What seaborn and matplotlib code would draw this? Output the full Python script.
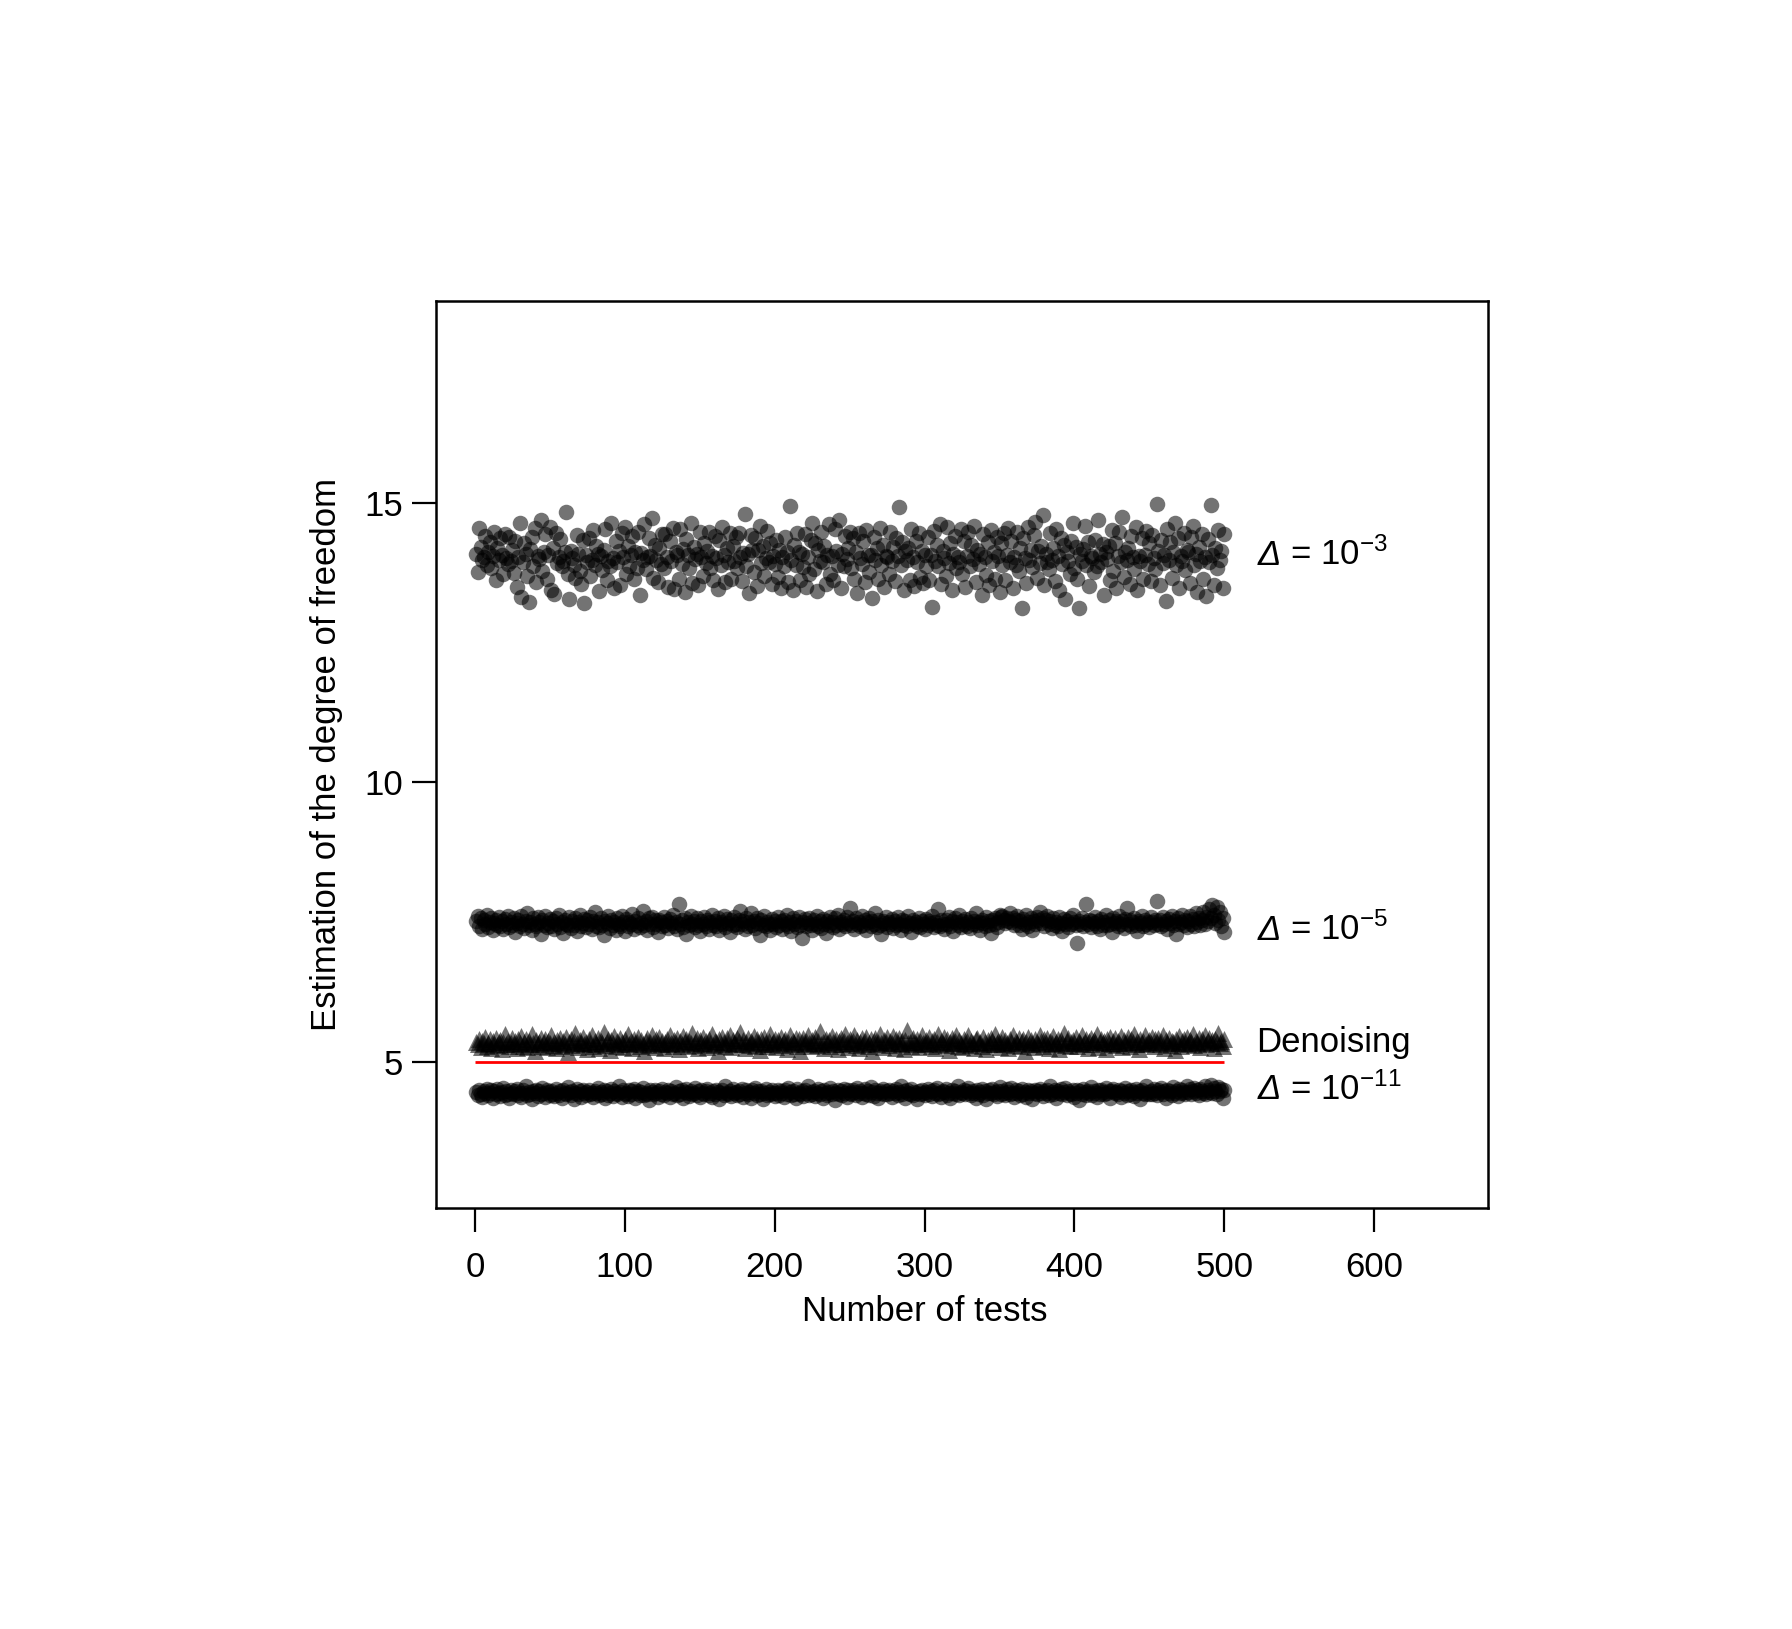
import numpy as np
import pandas as pd
import matplotlib
matplotlib.use("Agg")
import matplotlib.pyplot as plt
import seaborn as sns

# ---------------- data (read/estimated from the reference) ----------------
TOP_DELTA_1E3 = [
 14.08, 13.76, 14.55, 14.21, 13.97, 14.02, 14.41, 13.88, 14.12, 14.29, 13.84, 14.05, 14.47, 13.62, 14.18, 13.98, 14.36, 14.07, 13.73, 14.44, 14.01, 13.91, 14.39, 13.95, 14.15,
 13.74, 14.31, 13.49, 14.02, 14.63, 13.31, 13.93, 14.27, 14.09, 13.69, 13.23, 14.17, 14.38, 13.86, 14.55, 13.58, 14.04, 13.99, 14.68, 13.77, 14.11, 14.43, 13.63, 14.06, 14.57,
 13.43, 14.19, 13.37, 14.46, 13.92, 14.03, 14.35, 13.87, 13.96, 14.12, 14.84, 13.73, 13.27, 14.13, 14.01, 13.89, 13.65, 14.42, 14.08, 13.78, 13.55, 14.33, 13.21, 14.06, 13.94,
 14.36, 13.68, 13.97, 14.51, 13.89, 14.23, 14.08, 13.42, 14.04, 13.79, 14.16, 14.53, 13.61, 13.95, 13.87, 14.63, 14.01, 13.47, 14.32, 13.93, 14.14, 13.52, 14.45, 14.03, 14.57,
 13.72, 14.22, 13.86, 14.06, 14.41, 13.63, 14.11, 13.84, 14.48, 13.34, 14.10, 13.97, 14.62, 13.81, 14.02, 14.37, 14.04, 14.73, 13.66, 14.25, 13.98, 13.58, 14.18, 13.90, 14.44,
 13.84, 14.43, 14.02, 13.49, 14.31, 13.96, 14.55, 13.45, 14.12, 14.07, 13.64, 14.52, 13.91, 14.17, 13.41, 14.35, 14.06, 13.83, 14.64, 13.57, 14.21, 13.99, 14.09, 13.53, 14.47,
 14.02, 13.69, 14.28, 13.92, 14.14, 14.47, 13.83, 14.05, 13.61, 14.41, 14.01, 13.46, 14.34, 13.89, 14.56, 14.07, 13.58, 14.18, 13.94, 14.45, 13.64, 14.23, 13.95, 14.38, 13.83,
 14.45, 14.03, 13.59, 14.10, 14.79, 13.86, 14.08, 13.39, 14.42, 14.16, 13.76, 14.37, 13.51, 14.15, 14.58, 13.92, 14.22, 13.68, 14.01, 14.49, 13.93, 14.28, 13.55, 14.05, 13.91,
 14.34, 13.67, 14.16, 13.48, 14.02, 13.86, 14.39, 14.11, 13.58, 14.94, 13.97, 13.44, 14.25, 13.88, 14.46, 14.12, 13.62, 14.09, 13.85, 14.43, 13.50, 14.03, 13.73, 14.33, 14.64,
 13.81, 14.28, 13.42, 14.15, 13.96, 14.47, 13.93, 14.23, 13.55, 14.07, 14.61, 13.72, 14.04, 13.61, 14.53, 14.13, 13.89, 14.69, 13.47, 14.09, 13.86, 14.41, 13.99, 14.18, 14.47,
 13.84, 14.36, 13.63, 14.12, 13.38, 14.45, 14.01, 13.91, 14.32, 13.58, 14.51, 14.06, 13.76, 14.07, 13.29, 14.39, 13.97, 14.19, 13.64, 14.54, 13.88, 14.25, 13.49, 14.04, 14.02,
 13.72, 14.48, 13.95, 14.21, 13.59, 14.37, 14.05, 14.92, 13.89, 14.29, 13.43, 14.13, 13.98, 14.18, 13.62, 14.52, 14.03, 13.51, 14.31, 13.93, 14.46, 13.67, 14.14, 13.56, 14.06,
 13.86, 14.38, 13.61, 14.07, 13.14, 14.49, 13.96, 14.24, 13.87, 14.62, 13.54, 14.13, 14.01, 13.68, 14.56, 13.92, 14.28, 13.44, 14.09, 14.41, 13.83, 14.02, 13.94, 14.53, 13.73,
 14.32, 13.49, 14.05, 14.47, 13.87, 14.25, 13.99, 14.58, 13.58, 14.16, 13.91, 14.08, 13.35, 14.43, 14.02, 13.71, 14.29, 13.53, 14.51, 13.96, 14.11, 13.64, 14.39, 14.04, 13.41,
 14.27, 13.89, 14.45, 13.61, 14.06, 14.54, 13.93, 14.31, 13.47, 14.03, 13.88, 14.48, 13.78, 14.19, 13.11, 14.37, 14.01, 13.56, 14.57, 13.97, 14.16, 13.85, 14.42, 14.66, 13.65,
 14.14, 13.92, 14.22, 14.78, 13.52, 14.08, 13.93, 13.81, 14.46, 13.97, 14.19, 13.59, 14.52, 14.05, 13.44, 14.36, 13.91, 14.25, 13.27, 14.11, 13.95, 13.73, 14.31, 14.64, 13.84,
 14.21, 13.63, 13.12, 14.08, 13.96, 14.17, 14.59, 13.89, 14.29, 13.51, 14.04, 14.01, 13.76, 14.33, 13.87, 14.68, 14.08, 13.94, 14.26, 13.34, 14.12, 13.99, 14.22, 13.62, 14.51,
 13.77, 14.27, 13.48, 14.05, 14.47, 13.93, 14.74, 13.67, 14.12, 13.98, 14.19, 13.55, 14.41, 14.03, 13.82, 14.56, 13.43, 14.04, 13.95, 14.36, 13.64, 14.07, 14.49, 13.91, 14.28,
 13.59, 14.42, 14.01, 13.81, 14.97, 14.13, 13.52, 14.34, 13.92, 14.06, 13.24, 14.53, 13.97, 14.29, 13.66, 14.11, 14.63, 13.88, 14.37, 13.47, 14.04, 13.95, 14.46, 13.79, 14.15,
 14.12, 13.57, 14.38, 14.58, 13.89, 14.09, 13.41, 14.21, 13.96, 14.44, 13.63, 14.02, 13.33, 14.35, 13.93, 14.96, 14.06, 13.53, 14.18, 13.84, 14.51, 13.98, 14.13, 13.48, 14.43,
]

MID_DELTA_1E5 = [
 7.52, 7.61, 7.44, 7.58, 7.39, 7.55, 7.47, 7.63, 7.41, 7.50, 7.57, 7.36, 7.49, 7.54, 7.45, 7.60, 7.43, 7.52, 7.38, 7.56, 7.48, 7.62, 7.42, 7.51, 7.46,
 7.58, 7.33, 7.49, 7.55, 7.44, 7.61, 7.47, 7.40, 7.53, 7.66, 7.45, 7.50, 7.37, 7.57, 7.48, 7.43, 7.59, 7.51, 7.29, 7.54, 7.46, 7.62, 7.41, 7.49, 7.56,
 7.44, 7.52, 7.39, 7.58, 7.47, 7.64, 7.42, 7.50, 7.31, 7.55, 7.48, 7.45, 7.60, 7.40, 7.53, 7.46, 7.57, 7.35, 7.51, 7.63, 7.43, 7.49, 7.56, 7.41, 7.54,
 7.47, 7.59, 7.38, 7.52, 7.68, 7.44, 7.50, 7.42, 7.57, 7.46, 7.28, 7.53, 7.49, 7.61, 7.40, 7.55, 7.45, 7.51, 7.37, 7.58, 7.48, 7.43, 7.62, 7.50, 7.34,
 7.56, 7.44, 7.51, 7.47, 7.65, 7.39, 7.53, 7.46, 7.58, 7.42, 7.49, 7.71, 7.45, 7.52, 7.36, 7.57, 7.48, 7.60, 7.41, 7.54, 7.47, 7.33, 7.55, 7.50, 7.43,
 7.59, 7.46, 7.52, 7.40, 7.56, 7.49, 7.63, 7.44, 7.51, 7.38, 7.82, 7.47, 7.54, 7.42, 7.58, 7.30, 7.50, 7.45, 7.61, 7.48, 7.53, 7.41, 7.57, 7.46, 7.35,
 7.52, 7.48, 7.60, 7.43, 7.55, 7.39, 7.51, 7.64, 7.46, 7.53, 7.44, 7.58, 7.37, 7.50, 7.47, 7.62, 7.42, 7.56, 7.49, 7.32, 7.54, 7.45, 7.59, 7.48, 7.41,
 7.55, 7.70, 7.47, 7.52, 7.38, 7.57, 7.44, 7.50, 7.66, 7.46, 7.53, 7.40, 7.58, 7.49, 7.27, 7.54, 7.45, 7.61, 7.43, 7.51, 7.48, 7.36, 7.56, 7.47, 7.52,
 7.42, 7.59, 7.46, 7.53, 7.39, 7.55, 7.48, 7.63, 7.44, 7.50, 7.34, 7.57, 7.47, 7.52, 7.41, 7.60, 7.45, 7.22, 7.51, 7.56, 7.43, 7.49, 7.58, 7.46, 7.37,
 7.54, 7.47, 7.61, 7.43, 7.52, 7.40, 7.56, 7.48, 7.31, 7.53, 7.45, 7.59, 7.50, 7.42, 7.57, 7.46, 7.64, 7.39, 7.51, 7.48, 7.55, 7.44, 7.60, 7.49, 7.76,
 7.46, 7.53, 7.38, 7.57, 7.47, 7.51, 7.43, 7.62, 7.45, 7.54, 7.36, 7.50, 7.58, 7.44, 7.52, 7.48, 7.66, 7.41, 7.55, 7.46, 7.29, 7.53, 7.49, 7.60, 7.42,
 7.51, 7.47, 7.56, 7.40, 7.53, 7.45, 7.59, 7.48, 7.37, 7.54, 7.46, 7.52, 7.43, 7.61, 7.49, 7.33, 7.55, 7.47, 7.50, 7.44, 7.58, 7.42, 7.52, 7.48, 7.39,
 7.56, 7.45, 7.53, 7.49, 7.62, 7.41, 7.51, 7.46, 7.74, 7.43, 7.55, 7.48, 7.38, 7.54, 7.47, 7.59, 7.44, 7.52, 7.35, 7.57, 7.50, 7.46, 7.63, 7.42, 7.53,
 7.48, 7.56, 7.44, 7.51, 7.40, 7.58, 7.47, 7.53, 7.66, 7.45, 7.50, 7.37, 7.55, 7.49, 7.43, 7.60, 7.52, 7.46, 7.31, 7.54, 7.48, 7.57, 7.42, 7.51, 7.64,
 7.59, 7.62, 7.55, 7.49, 7.57, 7.53, 7.66, 7.50, 7.58, 7.46, 7.54, 7.61, 7.45, 7.52, 7.39, 7.56, 7.48, 7.63, 7.44, 7.51, 7.57, 7.36, 7.53, 7.47, 7.60,
 7.55, 7.68, 7.49, 7.58, 7.43, 7.54, 7.62, 7.47, 7.52, 7.40, 7.57, 7.46, 7.51, 7.44, 7.59, 7.49, 7.34, 7.56, 7.48, 7.53, 7.42, 7.58, 7.47, 7.64, 7.50,
 7.45, 7.13, 7.52, 7.48, 7.57, 7.44, 7.51, 7.82, 7.47, 7.55, 7.41, 7.53, 7.49, 7.60, 7.43, 7.52, 7.38, 7.56, 7.46, 7.51, 7.63, 7.45, 7.54, 7.48, 7.32,
 7.57, 7.49, 7.53, 7.44, 7.61, 7.47, 7.52, 7.40, 7.56, 7.76, 7.48, 7.54, 7.43, 7.50, 7.58, 7.46, 7.35, 7.53, 7.49, 7.62, 7.44, 7.55, 7.47, 7.51, 7.41,
 7.59, 7.50, 7.46, 7.54, 7.88, 7.48, 7.55, 7.43, 7.60, 7.47, 7.52, 7.38, 7.56, 7.49, 7.62, 7.45, 7.53, 7.30, 7.58, 7.48, 7.51, 7.64, 7.46, 7.55, 7.42,
 7.53, 7.61, 7.47, 7.56, 7.44, 7.66, 7.50, 7.58, 7.45, 7.54, 7.69, 7.48, 7.60, 7.52, 7.74, 7.57, 7.81, 7.63, 7.49, 7.77, 7.55, 7.68, 7.43, 7.58, 7.32,
]

TRI_DENOISING = [
 5.37, 5.32, 5.42, 5.28, 5.39, 5.34, 5.46, 5.30, 5.35, 5.41, 5.26, 5.38, 5.33, 5.44, 5.31, 5.36, 5.40, 5.23, 5.37, 5.50, 5.32, 5.39, 5.29, 5.35, 5.43,
 5.33, 5.38, 5.25, 5.41, 5.34, 5.47, 5.30, 5.36, 5.42, 5.28, 5.39, 5.32, 5.51, 5.35, 5.21, 5.40, 5.33, 5.37, 5.44, 5.29, 5.36, 5.41, 5.27, 5.38, 5.34,
 5.48, 5.31, 5.37, 5.25, 5.40, 5.34, 5.43, 5.30, 5.39, 5.33, 5.45, 5.19, 5.36, 5.42, 5.31, 5.38, 5.52, 5.34, 5.28, 5.40, 5.35, 5.46, 5.32, 5.37, 5.24,
 5.41, 5.34, 5.49, 5.30, 5.38, 5.33, 5.43, 5.26, 5.39, 5.35, 5.54, 5.31, 5.37, 5.42, 5.22, 5.40, 5.34, 5.47, 5.29, 5.38, 5.33, 5.44, 5.36, 5.27, 5.41,
 5.35, 5.50, 5.32, 5.39, 5.25, 5.42, 5.34, 5.37, 5.46, 5.30, 5.40, 5.33, 5.20, 5.38, 5.43, 5.31, 5.36, 5.48, 5.34, 5.28, 5.41, 5.35, 5.45, 5.32, 5.39,
 5.26, 5.37, 5.42, 5.33, 5.49, 5.35, 5.30, 5.40, 5.34, 5.44, 5.23, 5.38, 5.32, 5.47, 5.36, 5.41, 5.29, 5.39, 5.34, 5.53, 5.31, 5.37, 5.43, 5.25, 5.40,
 5.34, 5.46, 5.32, 5.38, 5.28, 5.42, 5.35, 5.50, 5.31, 5.39, 5.36, 5.21, 5.41, 5.33, 5.45, 5.37, 5.30, 5.43, 5.34, 5.48, 5.27, 5.40, 5.35, 5.32, 5.44,
 5.38, 5.55, 5.33, 5.40, 5.26, 5.37, 5.43, 5.31, 5.39, 5.34, 5.47, 5.29, 5.41, 5.36, 5.22, 5.42, 5.33, 5.45, 5.35, 5.30, 5.39, 5.51, 5.32, 5.37, 5.41,
 5.27, 5.40, 5.34, 5.46, 5.31, 5.38, 5.42, 5.24, 5.37, 5.49, 5.33, 5.39, 5.35, 5.44, 5.29, 5.41, 5.20, 5.36, 5.43, 5.32, 5.38, 5.48, 5.34, 5.30, 5.40,
 5.35, 5.45, 5.31, 5.39, 5.56, 5.33, 5.37, 5.26, 5.42, 5.34, 5.40, 5.29, 5.47, 5.36, 5.32, 5.41, 5.23, 5.38, 5.44, 5.33, 5.39, 5.51, 5.35, 5.28, 5.42,
 5.34, 5.38, 5.49, 5.31, 5.40, 5.25, 5.37, 5.43, 5.33, 5.39, 5.46, 5.30, 5.35, 5.41, 5.21, 5.38, 5.44, 5.32, 5.37, 5.50, 5.34, 5.28, 5.40, 5.36, 5.45,
 5.31, 5.39, 5.34, 5.47, 5.26, 5.41, 5.35, 5.43, 5.32, 5.38, 5.24, 5.40, 5.57, 5.34, 5.37, 5.30, 5.44, 5.36, 5.33, 5.42, 5.28, 5.39, 5.48, 5.35, 5.32,
 5.40, 5.34, 5.45, 5.29, 5.38, 5.42, 5.25, 5.37, 5.51, 5.33, 5.39, 5.35, 5.46, 5.31, 5.41, 5.22, 5.36, 5.43, 5.34, 5.38, 5.49, 5.30, 5.40, 5.35, 5.27,
 5.42, 5.33, 5.38, 5.48, 5.31, 5.39, 5.35, 5.26, 5.41, 5.44, 5.34, 5.37, 5.30, 5.46, 5.36, 5.23, 5.40, 5.33, 5.43, 5.38, 5.32, 5.50, 5.35, 5.39, 5.28,
 5.37, 5.45, 5.32, 5.40, 5.34, 5.25, 5.42, 5.36, 5.48, 5.31, 5.39, 5.34, 5.44, 5.29, 5.38, 5.41, 5.21, 5.37, 5.46, 5.33, 5.40, 5.35, 5.27, 5.42, 5.36,
 5.33, 5.49, 5.38, 5.30, 5.41, 5.35, 5.44, 5.26, 5.39, 5.34, 5.47, 5.32, 5.37, 5.42, 5.24, 5.40, 5.35, 5.52, 5.31, 5.38, 5.43, 5.29, 5.36, 5.40, 5.34,
 5.45, 5.30, 5.39, 5.35, 5.48, 5.32, 5.37, 5.41, 5.25, 5.38, 5.44, 5.33, 5.40, 5.36, 5.50, 5.28, 5.37, 5.42, 5.34, 5.39, 5.23, 5.41, 5.35, 5.46, 5.32,
 5.38, 5.43, 5.31, 5.39, 5.35, 5.47, 5.27, 5.40, 5.34, 5.37, 5.45, 5.30, 5.41, 5.36, 5.51, 5.33, 5.38, 5.24, 5.42, 5.35, 5.39, 5.48, 5.32, 5.37, 5.40,
 5.34, 5.46, 5.29, 5.41, 5.36, 5.43, 5.32, 5.38, 5.49, 5.26, 5.40, 5.35, 5.44, 5.31, 5.39, 5.37, 5.22, 5.42, 5.34, 5.47, 5.30, 5.38, 5.41, 5.35, 5.45,
 5.33, 5.40, 5.37, 5.51, 5.31, 5.39, 5.35, 5.44, 5.28, 5.41, 5.36, 5.48, 5.32, 5.38, 5.43, 5.34, 5.40, 5.25, 5.42, 5.37, 5.53, 5.35, 5.39, 5.30, 5.42,
]

BOT_DELTA_1E11 = [
 4.47, 4.42, 4.51, 4.44, 4.38, 4.49, 4.45, 4.53, 4.41, 4.46, 4.50, 4.36, 4.48, 4.43, 4.52, 4.45, 4.40, 4.47, 4.55, 4.42, 4.49, 4.44, 4.37, 4.50, 4.46,
 4.43, 4.48, 4.52, 4.41, 4.46, 4.39, 4.50, 4.45, 4.57, 4.42, 4.47, 4.44, 4.35, 4.49, 4.46, 4.51, 4.40, 4.48, 4.43, 4.54, 4.45, 4.38, 4.50, 4.47, 4.42,
 4.49, 4.44, 4.40, 4.53, 4.46, 4.42, 4.48, 4.37, 4.51, 4.45, 4.43, 4.56, 4.47, 4.41, 4.49, 4.34, 4.46, 4.52, 4.44, 4.48, 4.39, 4.50, 4.45, 4.42, 4.47,
 4.51, 4.43, 4.46, 4.38, 4.49, 4.45, 4.54, 4.41, 4.47, 4.44, 4.50, 4.36, 4.48, 4.42, 4.46, 4.53, 4.40, 4.49, 4.45, 4.43, 4.58, 4.47, 4.39, 4.51, 4.44,
 4.46, 4.40, 4.50, 4.43, 4.48, 4.52, 4.37, 4.45, 4.49, 4.42, 4.47, 4.55, 4.41, 4.46, 4.44, 4.33, 4.50, 4.47, 4.43, 4.51, 4.45, 4.39, 4.48, 4.44, 4.53,
 4.42, 4.47, 4.45, 4.51, 4.38, 4.49, 4.44, 4.46, 4.56, 4.41, 4.48, 4.43, 4.50, 4.36, 4.47, 4.52, 4.45, 4.40, 4.49, 4.44, 4.46, 4.54, 4.42, 4.48, 4.39,
 4.50, 4.45, 4.43, 4.48, 4.53, 4.41, 4.46, 4.38, 4.49, 4.44, 4.51, 4.47, 4.35, 4.45, 4.50, 4.42, 4.57, 4.46, 4.43, 4.48, 4.40, 4.52, 4.45, 4.47, 4.41,
 4.48, 4.44, 4.52, 4.39, 4.46, 4.50, 4.43, 4.47, 4.37, 4.51, 4.45, 4.55, 4.42, 4.48, 4.44, 4.49, 4.34, 4.46, 4.53, 4.41, 4.47, 4.43, 4.50, 4.45, 4.40,
 4.46, 4.51, 4.42, 4.48, 4.45, 4.38, 4.50, 4.44, 4.54, 4.47, 4.41, 4.49, 4.43, 4.36, 4.52, 4.46, 4.44, 4.48, 4.40, 4.51, 4.45, 4.57, 4.42, 4.47, 4.43,
 4.49, 4.40, 4.46, 4.53, 4.44, 4.48, 4.37, 4.50, 4.45, 4.42, 4.47, 4.55, 4.43, 4.49, 4.33, 4.46, 4.51, 4.44, 4.48, 4.41, 4.52, 4.45, 4.39, 4.50, 4.46,
 4.43, 4.50, 4.47, 4.41, 4.54, 4.45, 4.49, 4.38, 4.46, 4.52, 4.44, 4.48, 4.42, 4.56, 4.47, 4.40, 4.50, 4.45, 4.36, 4.49, 4.46, 4.53, 4.43, 4.48, 4.44,
 4.51, 4.46, 4.39, 4.49, 4.45, 4.52, 4.42, 4.47, 4.58, 4.44, 4.48, 4.37, 4.50, 4.46, 4.43, 4.53, 4.41, 4.47, 4.45, 4.34, 4.49, 4.44, 4.51, 4.46, 4.42,
 4.47, 4.52, 4.44, 4.48, 4.40, 4.50, 4.45, 4.55, 4.43, 4.46, 4.38, 4.49, 4.47, 4.53, 4.42, 4.45, 4.36, 4.50, 4.46, 4.48, 4.44, 4.57, 4.41, 4.47, 4.45,
 4.50, 4.43, 4.48, 4.54, 4.45, 4.41, 4.49, 4.46, 4.37, 4.51, 4.44, 4.47, 4.52, 4.42, 4.48, 4.35, 4.46, 4.50, 4.45, 4.53, 4.43, 4.47, 4.40, 4.49, 4.56,
 4.44, 4.49, 4.46, 4.41, 4.52, 4.47, 4.43, 4.55, 4.45, 4.38, 4.50, 4.46, 4.48, 4.42, 4.53, 4.44, 4.47, 4.39, 4.51, 4.45, 4.49, 4.34, 4.46, 4.50, 4.43,
 4.48, 4.53, 4.45, 4.40, 4.49, 4.46, 4.51, 4.42, 4.57, 4.47, 4.44, 4.50, 4.37, 4.48, 4.45, 4.52, 4.43, 4.47, 4.55, 4.41, 4.49, 4.46, 4.44, 4.51, 4.38,
 4.46, 4.50, 4.33, 4.48, 4.44, 4.53, 4.47, 4.42, 4.49, 4.45, 4.56, 4.41, 4.48, 4.46, 4.39, 4.51, 4.44, 4.50, 4.47, 4.43, 4.54, 4.45, 4.48, 4.36, 4.49,
 4.52, 4.45, 4.47, 4.43, 4.50, 4.38, 4.48, 4.46, 4.55, 4.42, 4.49, 4.44, 4.51, 4.47, 4.40, 4.53, 4.45, 4.48, 4.35, 4.50, 4.46, 4.43, 4.57, 4.47, 4.44,
 4.49, 4.43, 4.52, 4.46, 4.41, 4.50, 4.47, 4.54, 4.44, 4.48, 4.37, 4.51, 4.45, 4.49, 4.42, 4.56, 4.46, 4.48, 4.40, 4.53, 4.45, 4.50, 4.47, 4.43, 4.58,
 4.47, 4.52, 4.44, 4.49, 4.55, 4.46, 4.50, 4.41, 4.53, 4.48, 4.45, 4.57, 4.43, 4.51, 4.47, 4.59, 4.46, 4.54, 4.49, 4.44, 4.56, 4.48, 4.52, 4.36, 4.50,
]

TRUE_DF = 5
N_TESTS = 500
# label pieces: italic Delta + rest (None = plain label)
LABEL_HEAD = ["\u0394", "\u0394", None, "\u0394"]
LABEL_REST = [" = 10$^{-3}$", " = 10$^{-5}$", "Denoising", " = 10$^{-11}$"]
LABEL_BASELINE_Y = [13.89, 7.19, 5.18, 4.34]
LABEL_X = 522
X_TICKS = [0, 100, 200, 300, 400, 500, 600]
Y_TICKS = [5, 10, 15]

# ---------------- style ----------------
sns.set_style("white")
plt.rcParams["font.family"] = ["Liberation Sans", "DejaVu Sans"]
plt.rcParams["mathtext.fontset"] = "custom"
plt.rcParams["mathtext.rm"] = "Liberation Sans"
plt.rcParams["mathtext.it"] = "Liberation Sans:italic"
plt.rcParams["mathtext.default"] = "regular"
plt.rcParams["axes.labelcolor"] = "black"
plt.rcParams["text.color"] = "black"

FS = 25

fig = plt.figure(figsize=(17.92, 16.29), dpi=100)
ax = fig.add_axes([0.2433, 0.2585, 0.5871, 0.5567])

def frame(vals):
    return pd.DataFrame({"test": np.arange(1, len(vals) + 1), "value": vals})

common = dict(color="black", alpha=0.55, linewidth=0, legend=False, ax=ax)
sns.scatterplot(data=frame(TOP_DELTA_1E3), x="test", y="value", marker="o", s=125, **common)
sns.scatterplot(data=frame(MID_DELTA_1E5), x="test", y="value", marker="o", s=125, **common)
sns.scatterplot(data=frame(TRI_DENOISING), x="test", y="value", marker="^", s=150, **common)
sns.scatterplot(data=frame(BOT_DELTA_1E11), x="test", y="value", marker="o", s=125, **common)

ax.hlines(TRUE_DF, 0, N_TESTS, colors="#ff0000", linewidth=2.0, zorder=5)

for head, rest, ly in zip(LABEL_HEAD, LABEL_REST, LABEL_BASELINE_Y):
    if head is None:
        ax.text(LABEL_X - 1, ly, rest, fontsize=FS, ha="left", va="baseline")
    else:
        t1 = ax.text(LABEL_X, ly, head, fontsize=FS, fontstyle="italic",
                     ha="left", va="baseline")
        ax.annotate(rest, xy=(1, ly), xycoords=(t1, "data"), fontsize=FS,
                    ha="left", va="baseline")

ax.set_xlim(-26, 676)
ax.set_ylim(2.4, 18.6)
ax.set_xticks(X_TICKS)
ax.set_yticks(Y_TICKS)
ax.set_xticklabels([str(t) for t in X_TICKS])
ax.set_yticklabels([str(t) for t in Y_TICKS])
ax.tick_params(axis="both", which="major", direction="out", length=17, width=1.6,
               labelsize=FS, color="black", labelcolor="black",
               bottom=True, left=True, top=False, right=False)
ax.tick_params(axis="x", pad=14)
ax.tick_params(axis="y", pad=7)
for sp in ax.spines.values():
    sp.set_visible(True)
    sp.set_linewidth(1.8)
    sp.set_color("black")

ax.set_xlabel("Number of tests", fontsize=FS)
ax.set_ylabel("Estimation of the degree of freedom", fontsize=FS)
ax.xaxis.set_label_coords((300 + 26) / 702, -0.096)
ax.yaxis.set_label_coords(-0.088, 0.5)
ax.grid(False)

fig.savefig("out.png", dpi=100, facecolor="white")
